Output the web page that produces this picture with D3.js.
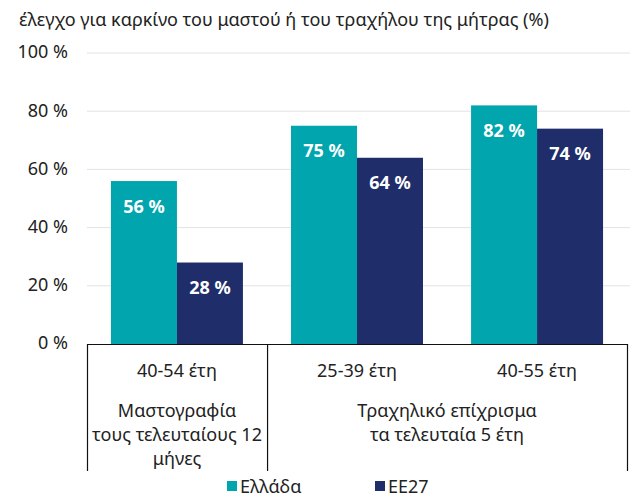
<!DOCTYPE html>
<html>
<head>
<meta charset="utf-8">
<script src="https://cdn.jsdelivr.net/npm/d3@7"></script>
<style>
  body { margin: 0; background: #fff; }
  svg { font-family: "Noto Sans", "Open Sans", sans-serif; }
</style>
</head>
<body>
<svg id="chart" width="630" height="498"></svg>
<script>
// data
const categories = ["40-54 έτη", "25-39 έτη", "40-55 έτη"];
const series = ["Ελλάδα", "ΕΕ27"];
const greece = [56, 75, 82];
const eu27 = [28, 64, 74];
const yTicks = [0, 20, 40, 60, 80, 100];
const groups = [
  { lines: ["Μαστογραφία", "τους τελευταίους 12", "μήνες"], from: 0, to: 1 },
  { lines: ["Τραχηλικό επίχρισμα", "τα τελευταία 5 έτη"], from: 1, to: 3 }
];
const title = "έλεγχο για καρκίνο του μαστού ή του τραχήλου της μήτρας (%)";

const colors = d3.scaleOrdinal(series, ["#00a5ae", "#1f2d6a"]);
const fs = 18;

const svg = d3.select("#chart");
const plotLeft = 87, plotRight = 627, plotTop = 53, plotBottom = 344;

const x0 = d3.scaleBand().domain(categories).range([plotLeft, plotRight]).paddingInner(0.267).paddingOuter(0.133);
const x1 = d3.scaleBand().domain(series).range([0, x0.bandwidth()]);
const y  = d3.scaleLinear().domain([0, 100]).range([plotBottom, plotTop]);

// title
svg.append("text")
  .attr("x", 19).attr("y", 26)
  .attr("font-size", fs).attr("fill", "#222")
  .text(title);

// gridlines
svg.append("g").selectAll("line").data(yTicks.filter(d => d > 0)).join("line")
  .attr("x1", plotLeft).attr("x2", 630)
  .attr("y1", d => y(d)).attr("y2", d => y(d))
  .attr("stroke", "#e3e3e3").attr("stroke-width", 1);

// y labels
svg.append("g").selectAll("text").data(yTicks).join("text")
  .attr("x", 68).attr("y", d => y(d))
  .attr("dy", "0.3em")
  .attr("text-anchor", "end")
  .attr("font-size", fs).attr("fill", "#222")
  .text(d => d + " %");

// bars
const rows = categories.map((c, i) => ({ cat: c, vals: [greece[i], eu27[i]] }));
const bars = svg.append("g").selectAll("g").data(rows).join("g")
  .attr("transform", d => `translate(${x0(d.cat)},0)`);

bars.selectAll("rect").data(d => d.vals.map((v, j) => ({ s: series[j], v }))).join("rect")
  .attr("x", d => x1(d.s))
  .attr("y", d => y(d.v))
  .attr("width", x1.bandwidth())
  .attr("height", d => y(0) - y(d.v))
  .attr("fill", d => colors(d.s));

bars.selectAll("text").data(d => d.vals.map((v, j) => ({ s: series[j], v }))).join("text")
  .attr("x", d => x1(d.s) + x1.bandwidth() / 2)
  .attr("y", d => y(d.v) + 31.5)
  .attr("text-anchor", "middle")
  .attr("font-size", fs).attr("font-weight", "bold").attr("fill", "#fff")
  .text(d => d.v + " %");

// axis line and category table
const step = x0.step();
const edge = i => Math.min(plotLeft + i * step, plotRight);
svg.append("line")
  .attr("x1", plotLeft).attr("x2", plotRight + 0.5)
  .attr("y1", plotBottom + 0.5).attr("y2", plotBottom + 0.5)
  .attr("stroke", "#111").attr("stroke-width", 1.2);

const boundaries = [0, 1, 3];
svg.append("g").selectAll("line").data(boundaries).join("line")
  .attr("x1", d => edge(d) + 0.5).attr("x2", d => edge(d) + 0.5)
  .attr("y1", plotBottom).attr("y2", 471)
  .attr("stroke", "#111").attr("stroke-width", 1.2);

svg.append("g").selectAll("text").data(categories).join("text")
  .attr("x", d => x0(d) + x0.bandwidth() / 2)
  .attr("y", 377)
  .attr("text-anchor", "middle")
  .attr("font-size", fs).attr("fill", "#222")
  .text(d => d);

groups.forEach(g => {
  const cx = (edge(g.from) + edge(g.to)) / 2;
  svg.append("g").selectAll("text").data(g.lines).join("text")
    .attr("x", cx)
    .attr("y", (d, i) => 417 + i * 24)
    .attr("text-anchor", "middle")
    .attr("font-size", fs).attr("fill", "#222")
    .text(d => d);
});

// legend
const legendX = [227, 375];
const legend = svg.append("g").selectAll("g").data(series).join("g")
  .attr("transform", (d, i) => `translate(${legendX[i]},481)`);
legend.append("rect")
  .attr("width", 10).attr("height", 10)
  .attr("fill", d => colors(d));
legend.append("text")
  .attr("x", 13).attr("y", 11.5)
  .attr("font-size", fs).attr("fill", "#222")
  .text(d => d);
</script>
</body>
</html>
